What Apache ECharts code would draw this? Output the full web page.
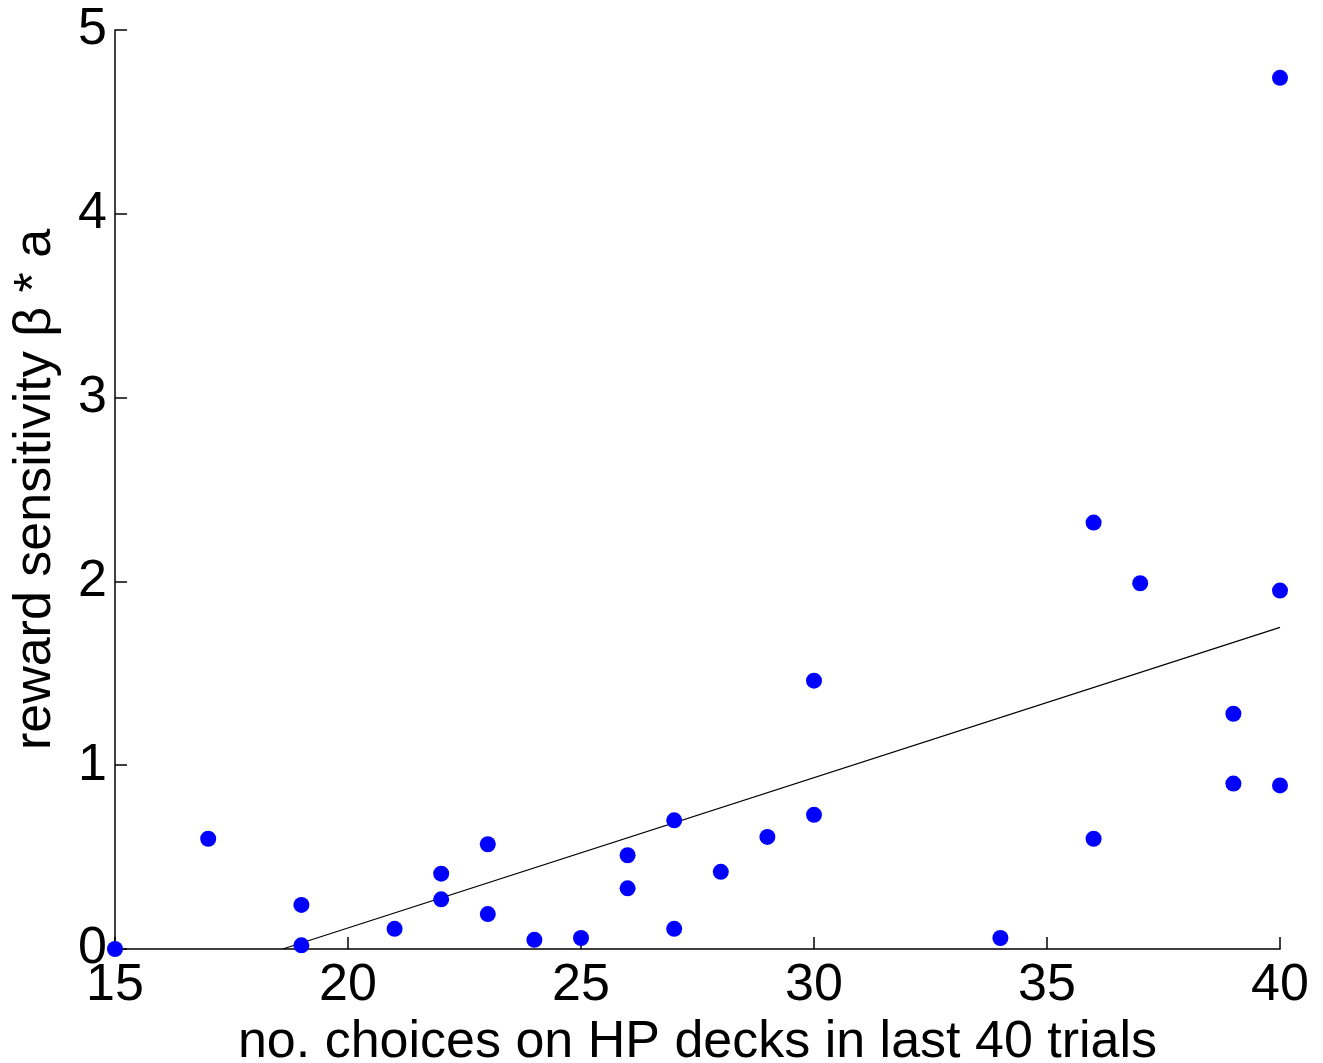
<!DOCTYPE html>
<html>
<head>
<meta charset="utf-8">
<script src="https://cdn.jsdelivr.net/npm/echarts@6/dist/echarts.min.js"></script>
<style>
  html, body { margin: 0; padding: 0; background: #fff; }
  #chart { width: 1323px; height: 1063px; }
</style>
</head>
<body>
<div id="chart"></div>
<script>
// HP choices (x) vs reward sensitivity (y)
var choices = [15, 17, 19, 19, 21, 22, 22, 23, 23, 24, 25, 26, 26, 27, 27, 28, 29, 30, 30, 34, 36, 36, 37, 39, 39, 40, 40, 40];
var sensitivity = [0, 0.60, 0.24, 0.02, 0.11, 0.41, 0.27, 0.57, 0.19, 0.05, 0.06, 0.51, 0.33, 0.70, 0.11, 0.42, 0.61, 1.46, 0.73, 0.06, 2.32, 0.60, 1.99, 1.28, 0.90, 4.74, 1.95, 0.89];
// regression line end points
var fitX = [18.6, 40];
var fitY = [0, 1.75];

var fontFam = "'Liberation Sans', Arial, Helvetica, sans-serif";

var chart = echarts.init(document.getElementById("chart"));

var points = [];
for (var i = 0; i < choices.length; i++) {
  points.push([choices[i], sensitivity[i]]);
}
var fitLine = [];
for (var j = 0; j < fitX.length; j++) {
  fitLine.push([fitX[j], fitY[j]]);
}

var option = {
  backgroundColor: "#fff",
  animation: false,
  grid: {
    left: 115,
    right: 43,
    top: 30,
    bottom: 114,
    containLabel: false,
    outerBoundsMode: "none"
  },
  xAxis: {
    type: "value",
    min: 15,
    max: 40,
    interval: 5,
    name: "no. choices on HP decks in last 40 trials",
    nameLocation: "middle",
    nameGap: 63,
    nameTextStyle: { color: "#000", fontSize: 52, fontFamily: fontFam },
    axisLine: { lineStyle: { color: "#000", width: 1.5 } },
    axisTick: { inside: true, length: 12, lineStyle: { color: "#000", width: 1.5 } },
    axisLabel: { color: "#000", fontSize: 52, fontFamily: fontFam, margin: 11 },
    splitLine: { show: false }
  },
  yAxis: {
    type: "value",
    min: 0,
    max: 5,
    interval: 1,
    name: "reward sensitivity β * a",
    nameLocation: "middle",
    nameGap: 53,
    nameTextStyle: { color: "#000", fontSize: 52, fontFamily: fontFam },
    axisLine: { lineStyle: { color: "#000", width: 1.5 } },
    axisTick: { inside: true, length: 12, lineStyle: { color: "#000", width: 1.5 } },
    axisLabel: { color: "#000", fontSize: 52, fontFamily: fontFam, margin: 8 },
    splitLine: { show: false }
  },
  series: [
    {
      type: "line",
      data: fitLine,
      showSymbol: false,
      lineStyle: { color: "#000", width: 1.2 },
      z: 1
    },
    {
      type: "scatter",
      data: points,
      symbolSize: 16,
      clip: false,
      itemStyle: { color: "#0000ff", opacity: 1 },
      z: 2
    }
  ]
};
chart.setOption(option);
</script>
</body>
</html>
